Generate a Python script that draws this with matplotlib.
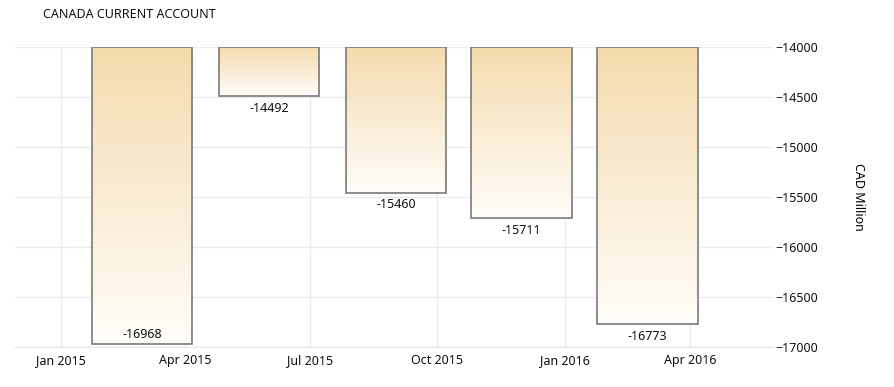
import numpy as np
import pandas as pd
import matplotlib
matplotlib.use("Agg")
import matplotlib.pyplot as plt
import matplotlib.dates as mdates
from matplotlib.colors import LinearSegmentedColormap

# Canada current account, CAD million (quarterly)
quarters = ["2015-03-01", "2015-06-01", "2015-09-01", "2015-12-01", "2016-03-01"]
values = [-16968, -14492, -15460, -15711, -16773]
base = -14000
y_ticks = [-14000, -14500, -15000, -15500, -16000, -16500, -17000]
x_ticks = ["2015-01-01", "2015-04-01", "2015-07-01", "2015-10-01", "2016-01-01", "2016-04-01"]


def main():
    plt.rcParams["font.family"] = ["Noto Sans", "DejaVu Sans"]

    dates = pd.to_datetime(quarters)
    xnum = mdates.date2num(dates)
    width = 73  # days

    fig = plt.figure(figsize=(8.95, 3.87), dpi=100)
    ax = fig.add_axes([15 / 895, 1 - 347 / 387, (773 - 15) / 895, 300 / 387])

    cmap = LinearSegmentedColormap.from_list("tan", ["#fffdf9", "#f4dbad"])
    grad = np.linspace(0, 1, 256).reshape(-1, 1)

    bars = ax.bar(xnum, np.array(values) - base, bottom=base, width=width,
                  facecolor="none", edgecolor="#7a7a7a", linewidth=1.2, zorder=3)
    for b, v in zip(bars, values):
        x0 = b.get_x()
        x1 = x0 + b.get_width()
        im = ax.imshow(grad, cmap=cmap, aspect="auto", origin="lower",
                       extent=[x0, x1, v, base], zorder=2)
        im.set_clip_path(b)

    # value labels under each bar (inside if no room)
    for x, v in zip(xnum, values):
        if v - 150 < -17000:
            ax.text(x, v + 30, f"{v}", ha="center", va="bottom", fontsize=9, color="#111111", zorder=4)
        else:
            ax.text(x, v - 55, f"{v}", ha="center", va="top", fontsize=9, color="#111111", zorder=4)

    ax.set_xlim(mdates.date2num(pd.Timestamp("2014-11-29")), mdates.date2num(pd.Timestamp("2016-05-31")))
    ax.set_ylim(-17000, -14000)

    ax.set_xticks(mdates.date2num(pd.to_datetime(x_ticks)))
    ax.xaxis.set_major_formatter(mdates.DateFormatter("%b %Y"))
    ax.set_yticks(y_ticks)
    ax.yaxis.tick_right()
    ax.yaxis.set_label_position("right")
    ax.tick_params(axis="both", length=0, labelsize=9, colors="#111111")
    ax.tick_params(axis="y", pad=2)
    ax.tick_params(axis="x", pad=5)

    ax.grid(True, color="#ebebeb", linewidth=1, zorder=0)
    ax.set_axisbelow(True)
    for s in ["top", "left", "right"]:
        ax.spines[s].set_visible(False)
    ax.spines["bottom"].set_color("#e6e6e6")

    ax.set_ylabel("CAD Million", rotation=-90, fontsize=9, labelpad=24, va="bottom")
    fig.text(43 / 895, 1 - 15 / 387, "CANADA CURRENT ACCOUNT", fontsize=9,
             ha="left", va="center", color="#111111")

    fig.savefig("out.png", dpi=100)


if __name__ == "__main__":
    main()
